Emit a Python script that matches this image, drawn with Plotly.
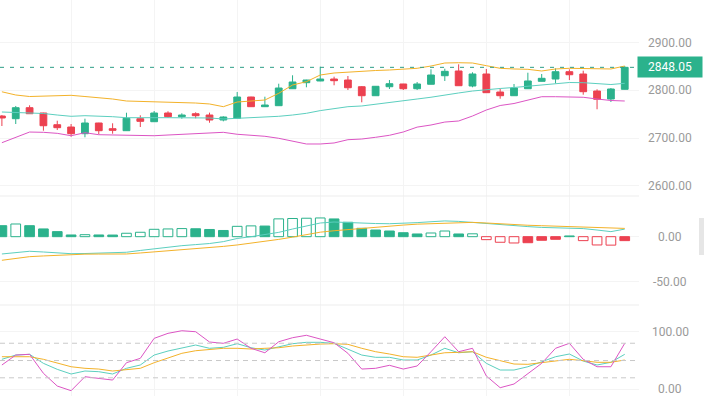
import plotly.graph_objects as go

# ---------------- data ----------------
idx = list(range(46))
opens = [2746.2, 2740.6, 2763.6, 2752.5, 2728.0, 2723.2, 2709.2, 2731.6, 2719.7, 2715.5,
         2740.6, 2734.3, 2752.5, 2744.8, 2751.0, 2748.3, 2737.9, 2741.4, 2786.0, 2765.7,
         2767.8, 2803.3, 2815.9, 2819.5, 2823.6, 2821.5, 2807.5, 2788.7, 2807.5, 2813.2,
         2803.3, 2812.6, 2830.5, 2840.4, 2809.0, 2834.1, 2796.4, 2788.7, 2803.3, 2818.8,
         2823.6, 2838.9, 2834.1, 2798.5, 2781.8, 2802.1]
highs = [2748.3, 2767.2, 2768.6, 2753.0, 2736.4, 2729.5, 2740.6, 2732.0, 2731.0, 2753.1,
         2747.7, 2756.7, 2756.1, 2751.9, 2754.0, 2753.3, 2745.6, 2796.4, 2786.5, 2786.6,
         2813.8, 2831.4, 2822.0, 2849.4, 2828.5, 2829.9, 2809.0, 2808.8, 2821.5, 2813.5,
         2817.4, 2843.9, 2845.2, 2854.4, 2837.7, 2844.6, 2803.3, 2813.2, 2836.8, 2834.1,
         2846.0, 2843.9, 2841.0, 2802.1, 2804.8, 2850.8]
lows = [2725.3, 2729.5, 2750.5, 2715.5, 2716.9, 2702.9, 2701.7, 2708.0, 2709.2, 2715.0,
        2723.2, 2734.0, 2742.7, 2740.6, 2741.4, 2732.2, 2735.1, 2741.0, 2765.5, 2765.0,
        2767.5, 2803.0, 2806.3, 2819.0, 2810.5, 2800.6, 2774.9, 2788.5, 2802.7, 2800.6,
        2800.6, 2812.3, 2819.5, 2809.4, 2806.3, 2794.8, 2782.4, 2788.5, 2803.0, 2818.5,
        2814.6, 2821.5, 2790.8, 2760.3, 2775.5, 2801.8]
closes = [2742.1, 2763.6, 2751.0, 2725.9, 2721.8, 2709.2, 2731.6, 2715.5, 2716.3, 2741.4,
          2735.1, 2752.5, 2744.8, 2748.3, 2746.9, 2737.9, 2744.1, 2786.0, 2765.7, 2769.2,
          2804.8, 2817.4, 2821.5, 2823.6, 2820.1, 2805.4, 2788.7, 2808.4, 2813.8, 2803.3,
          2813.2, 2832.0, 2839.7, 2809.6, 2834.1, 2795.0, 2788.7, 2804.8, 2819.5, 2825.1,
          2838.9, 2832.6, 2797.1, 2781.2, 2802.7, 2848.05]

boll_up = [2796.9, 2790.2, 2787.0, 2787.7, 2788.7, 2789.5, 2787.0, 2784.9, 2781.8, 2777.6,
           2777.0, 2776.2, 2775.5, 2774.9, 2773.4, 2771.4, 2765.7, 2775.5, 2778.2, 2779.7,
           2793.7, 2811.1, 2818.0, 2832.0, 2836.2, 2838.3, 2840.4, 2841.4, 2842.5, 2844.0,
           2846.0, 2850.8, 2857.1, 2857.7, 2857.1, 2851.5, 2846.0, 2844.6, 2843.9, 2840.4,
           2844.6, 2846.0, 2846.0, 2845.2, 2844.6, 2850.8]
boll_mid = [2754.6, 2753.6, 2752.5, 2751.5, 2748.3, 2745.6, 2746.9, 2746.2, 2744.8, 2742.7,
            2742.1, 2742.7, 2742.7, 2742.7, 2742.7, 2742.1, 2740.0, 2741.4, 2742.1, 2743.1,
            2745.6, 2748.3, 2751.9, 2757.5, 2761.7, 2765.7, 2767.2, 2770.7, 2773.4, 2777.0,
            2781.8, 2785.5, 2790.5, 2794.4, 2798.5, 2801.7, 2803.8, 2805.9, 2808.4, 2811.7,
            2814.6, 2816.3, 2815.9, 2813.8, 2812.1, 2814.6]
boll_low = [2690.4, 2700.8, 2712.7, 2712.1, 2710.0, 2705.0, 2711.3, 2707.1, 2706.5, 2707.1,
            2705.9, 2705.0, 2706.5, 2708.0, 2710.0, 2710.7, 2712.1, 2708.0, 2705.9, 2703.8,
            2699.6, 2693.3, 2687.7, 2687.7, 2689.8, 2696.7, 2698.1, 2701.7, 2705.9, 2712.8,
            2723.0, 2727.4, 2733.6, 2735.8, 2746.2, 2758.8, 2768.2, 2772.4, 2779.7, 2786.6,
            2786.6, 2786.4, 2785.4, 2781.8, 2778.7, 2777.6]

macd_hist = [12.2, 14.1, 12.2, 8.6, 5.6, 1.9, 2.2, 1.9, 1.8, 3.8,
             4.9, 8.2, 8.6, 9.0, 8.8, 8.0, 6.9, 11.5, 12.0, 11.8,
             19.8, 20.2, 20.5, 20.8, 19.7, 16.0, 9.3, 7.4, 6.3, 4.4,
             3.0, 4.1, 6.3, 3.0, 3.2, -3.3, -6.2, -7.0, -6.7, -4.0,
             -2.9, 0.8, -4.4, -9.2, -9.4, -4.4]
macd_dif = [-19.2, -17.6, -16.2, -17.0, -17.8, -18.9, -18.7, -18.3, -17.9, -17.3,
            -15.3, -13.3, -11.4, -10.0, -8.8, -7.6, -5.5, -2.0, 0.0, 2.2,
            4.8, 8.5, 12.2, 15.2, 16.3, 15.6, 15.2, 14.6, 14.4, 14.8,
            15.6, 16.6, 17.5, 17.0, 15.8, 14.3, 12.8, 11.8, 11.2, 10.3,
            9.6, 9.3, 9.0, 7.4, 5.6, 8.4]
macd_dea = [-26.2, -24.2, -22.2, -21.4, -20.6, -19.6, -19.4, -19.3, -19.2, -19.2,
            -18.1, -17.0, -15.9, -14.8, -13.4, -12.2, -10.8, -9.2, -7.3, -5.5,
            -3.0, -0.5, 2.3, 5.0, 6.6, 8.0, 9.3, 10.6, 11.8, 12.9,
            13.9, 14.6, 15.2, 15.7, 15.9, 15.2, 14.2, 13.4, 12.7, 12.2,
            11.8, 11.4, 10.9, 10.2, 9.5, 9.2]

kdj_k = [52.1, 59.5, 60.8, 45.1, 34.7, 26.6, 31.8, 30.6, 26.6, 36.5,
         42.2, 59.5, 66.5, 72.2, 76.9, 71.2, 72.9, 79.2, 72.2, 68.2,
         74.0, 79.2, 81.6, 81.6, 79.9, 70.0, 59.5, 55.6, 55.6, 50.9,
         50.9, 59.5, 71.2, 63.5, 65.3, 45.1, 33.5, 33.5, 39.2, 47.9,
         56.6, 61.3, 49.1, 42.2, 46.9, 60.8]
kdj_d = [56.6, 56.6, 56.6, 52.1, 46.2, 39.2, 36.5, 35.2, 31.8, 34.7,
         36.5, 46.2, 54.9, 62.5, 67.0, 69.4, 71.2, 71.2, 70.0, 71.2,
         72.2, 75.2, 77.4, 78.6, 79.2, 78.1, 71.2, 65.3, 61.3, 56.6,
         55.6, 59.5, 63.5, 64.2, 65.3, 55.6, 49.1, 43.9, 43.4, 46.2,
         49.7, 52.1, 49.7, 46.9, 46.9, 50.9]
kdj_j = [42.2, 59.5, 60.8, 27.8, 5.7, -2.4, 21.9, 19.1, 16.1, 46.2,
         53.8, 88.5, 97.2, 101.7, 100.0, 82.1, 79.9, 87.3, 71.2, 63.5,
         82.6, 89.6, 93.8, 87.3, 80.9, 62.5, 35.2, 36.5, 41.7, 35.2,
         40.5, 65.3, 91.3, 65.3, 71.2, 23.1, 2.8, 9.2, 26.6, 45.1,
         71.2, 79.9, 52.1, 39.2, 39.2, 79.9]

price_ticks = [2600, 2700, 2800, 2900]
macd_ticks = [-50, 0]
kdj_ticks = [0, 100]
kdj_levels = [20, 50, 80]
x_grid = [5, 11, 17, 23, 29, 35, 41]

# ---------------- styles ----------------
UP = "#2bb28c"
DOWN = "#ec4150"
ORANGE = "#f3b22a"
TEAL = "#5ccfbf"
PINK = "#dc55c4"
GRID = "#f4f4f4"
LABEL = "#9a9a9a"
FONT = "Roboto"

W, H = 704, 396
PLOT_W = 639
x_range = [-0.137, 46.03]

fig = go.Figure()

fig.add_trace(go.Candlestick(
    x=idx, open=opens, high=highs, low=lows, close=closes,
    increasing=dict(line=dict(color=UP, width=1), fillcolor=UP),
    decreasing=dict(line=dict(color=DOWN, width=1), fillcolor=DOWN),
    whiskerwidth=0, xaxis="x", yaxis="y", hoverinfo="skip"))

for vals, col in [(boll_up, ORANGE), (boll_mid, TEAL), (boll_low, PINK)]:
    fig.add_trace(go.Scatter(x=idx, y=vals, mode="lines", line=dict(color=col, width=1),
                             xaxis="x", yaxis="y", hoverinfo="skip"))

# MACD histogram: green positive / red negative, hollow when growing
fills, lines = [], []
for i, v in enumerate(macd_hist):
    c = UP if v >= 0 else DOWN
    growing = i > 0 and abs(v) > abs(macd_hist[i - 1])
    fills.append("white" if growing else c)
    lines.append(c)
fig.add_trace(go.Bar(x=idx, y=macd_hist, width=0.7,
                     marker=dict(color=fills, line=dict(color=lines, width=1)),
                     xaxis="x2", yaxis="y2", hoverinfo="skip"))
for vals, col in [(macd_dif, TEAL), (macd_dea, ORANGE)]:
    fig.add_trace(go.Scatter(x=idx, y=vals, mode="lines", line=dict(color=col, width=1),
                             xaxis="x2", yaxis="y2", hoverinfo="skip"))

for vals, col in [(kdj_k, TEAL), (kdj_d, ORANGE), (kdj_j, PINK)]:
    fig.add_trace(go.Scatter(x=idx, y=vals, mode="lines", line=dict(color=col, width=1),
                             xaxis="x3", yaxis="y3", hoverinfo="skip"))

top_b = 196 / H
mid_b = 305 / H

xcommon = dict(range=x_range, showticklabels=False, tickvals=x_grid, showgrid=True,
               gridcolor=GRID, zeroline=False, showline=False, ticks="")
ycommon = dict(side="right", showticklabels=False, showgrid=True, gridcolor=GRID,
               zeroline=False, showline=False, ticks="")

fig.update_layout(
    width=W, height=H, margin=dict(l=0, r=W - PLOT_W, t=0, b=0, pad=0),
    paper_bgcolor="white", plot_bgcolor="white", showlegend=False,
    bargap=0.3, boxgap=0.3, hovermode=False, dragmode=False,
    xaxis=dict(domain=[0, 1], anchor="y", rangeslider=dict(visible=False), **xcommon),
    xaxis2=dict(domain=[0, 1], anchor="y2", matches="x", **xcommon),
    xaxis3=dict(domain=[0, 1], anchor="y3", matches="x", **xcommon),
    yaxis=dict(domain=[1 - top_b, 1], anchor="x", range=[2578.9, 2988.9],
               tickvals=price_ticks, **ycommon),
    yaxis2=dict(domain=[1 - mid_b, 1 - top_b], anchor="x2", range=[-75.9, 45.2],
                tickvals=macd_ticks, **ycommon),
    yaxis3=dict(domain=[0, 1 - mid_b], anchor="x3", range=[-11.6, 146.4],
                tickvals=kdj_ticks, **ycommon),
)

shapes = []
# panel separators
for b in [top_b, mid_b]:
    shapes.append(dict(type="line", xref="paper", yref="paper", x0=0, x1=1,
                       y0=1 - b, y1=1 - b, line=dict(color="#ededed", width=1)))
# KDJ reference levels
for lv in kdj_levels:
    shapes.append(dict(type="line", xref="x3 domain", yref="y3", x0=0, x1=1, y0=lv, y1=lv,
                       line=dict(color="#c9c9c9", width=1, dash="5px,4px")))
# last price line
last = closes[-1]
shapes.append(dict(type="line", xref="x domain", yref="y", x0=0, x1=1, y0=last, y1=last,
                   line=dict(color="#2e9e86", width=1, dash="4px,6px")))
# scroll handle on right edge
shapes.append(dict(type="rect", xref="paper", yref="paper", x0=699 / PLOT_W, x1=704 / PLOT_W,
                   y0=1 - 255 / H, y1=1 - 218 / H, fillcolor="#e6e6e6", line=dict(width=0)))
fig.update_layout(shapes=shapes)

# axis labels (centered in the right gutter)
lab_x = 670 / PLOT_W
ann = []
for yref, ticks in [("y", price_ticks), ("y2", macd_ticks), ("y3", kdj_ticks)]:
    for t in ticks:
        ann.append(dict(x=lab_x, xref="paper", y=t, yref=yref, text=f"{t:.2f}",
                        showarrow=False, xanchor="center", yanchor="middle",
                        font=dict(family=FONT, size=12, color=LABEL)))
ann.append(dict(x=669.7 / PLOT_W, xref="paper", y=last, yref="y", text=f"{last:.2f}",
                showarrow=False, xanchor="center", yanchor="middle",
                bgcolor=UP, width=60, height=16, borderpad=2,
                font=dict(family=FONT, size=12, color="white")))
fig.update_layout(annotations=ann)

fig.write_html("out.html", config={"displayModeBar": False, "staticPlot": True},
               post_script="document.body.style.margin='0';document.body.style.overflow='hidden';")
